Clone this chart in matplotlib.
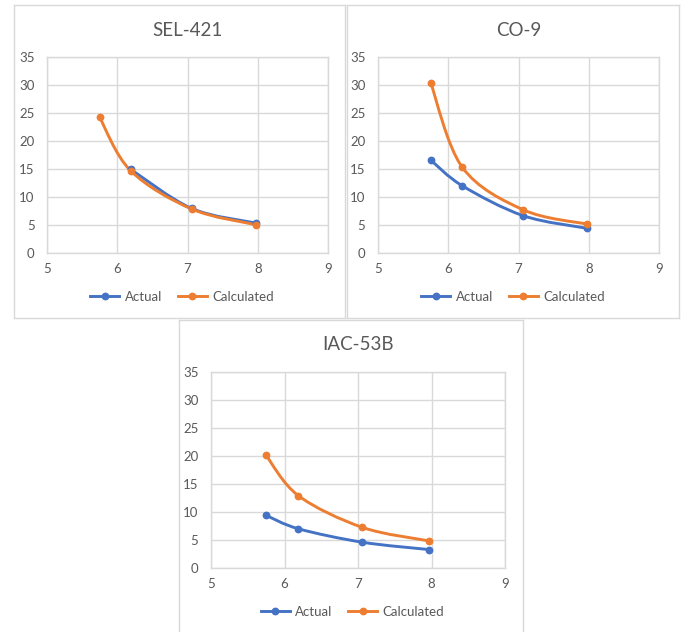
import numpy as np
import matplotlib.pyplot as plt
from matplotlib.path import Path
from matplotlib.patches import PathPatch
from matplotlib.lines import Line2D

plt.rcParams['font.family'] = ['Lato', 'DejaVu Sans']

# data
titles = ["SEL-421", "CO-9", "IAC-53B"]

sel_actual_x = [6.19, 7.06, 7.97]
sel_actual_y = [14.95, 7.95, 5.35]
sel_calc_x = [5.75, 6.19, 7.06, 7.97]
sel_calc_y = [24.2, 14.7, 7.85, 5.05]

co_actual_x = [5.75, 6.20, 7.07, 7.98]
co_actual_y = [16.6, 12.0, 6.65, 4.4]
co_calc_x = [5.75, 6.20, 7.07, 7.98]
co_calc_y = [30.4, 15.3, 7.7, 5.15]

iac_actual_x = [5.75, 6.19, 7.06, 7.96]
iac_actual_y = [9.4, 7.0, 4.6, 3.3]
iac_calc_x = [5.75, 6.19, 7.06, 7.96]
iac_calc_y = [20.1, 12.9, 7.25, 4.85]

BLUE = "#4472C4"
ORANGE = "#ED7D31"
GRID = "#D9D9D9"
TXT = "#595959"

W, H = 693, 632


def px(x0, y0, x1, y1):
    # pixel box (top-left origin) -> figure fraction rect
    return [x0 / W, 1 - y1 / H, (x1 - x0) / W, (y1 - y0) / H]


def smooth_path(xs, ys):
    # excel-like smoothed line: cubic bezier through the points
    pts = np.column_stack([xs, ys])
    n = len(pts)
    verts = [pts[0]]
    codes = [Path.MOVETO]
    for i in range(n - 1):
        p0 = pts[max(i - 1, 0)]
        p1 = pts[i]
        p2 = pts[i + 1]
        p3 = pts[min(i + 2, n - 1)]
        c1 = p1 + (p2 - p0) / 6
        c2 = p2 - (p3 - p1) / 6
        verts += [c1, c2, p2]
        codes += [Path.CURVE4] * 3
    return Path(verts, codes)


def draw_series(ax, xs, ys, color):
    ax.add_patch(PathPatch(smooth_path(xs, ys), facecolor="none",
                           edgecolor=color, lw=2.1, capstyle="round", zorder=3))
    ax.plot(xs, ys, "o", color=color, ms=4.6, zorder=4)


panels = [
    (titles[0], (14, 5, 345, 318), (47, 57, 328, 253),
     sel_actual_x, sel_actual_y, sel_calc_x, sel_calc_y),
    (titles[1], (347, 5, 679, 318), (378, 57, 659, 253),
     co_actual_x, co_actual_y, co_calc_x, co_calc_y),
    (titles[2], (179, 320, 523, 640), (211, 372, 505, 568),
     iac_actual_x, iac_actual_y, iac_calc_x, iac_calc_y),
]

fig = plt.figure(figsize=(W / 100, H / 100), dpi=100)

for title, box, area, ax_x, ax_y, cx, cy in panels:
    # chart frame
    bg = fig.add_axes(px(*box))
    bg.set_xticks([])
    bg.set_yticks([])
    for s in bg.spines.values():
        s.set_color(GRID)
        s.set_linewidth(1)

    ax = fig.add_axes(px(*area))
    ax.set_xlim(5, 9)
    ax.set_ylim(0, 35)
    ax.set_xticks(range(5, 10))
    ax.set_yticks(range(0, 36, 5))
    ax.grid(True, color=GRID, lw=1)
    ax.set_axisbelow(True)
    for s in ax.spines.values():
        s.set_color(GRID)
        s.set_linewidth(1)
    ax.tick_params(length=0, labelsize=9.5, colors=TXT)
    ax.tick_params(axis="y", pad=9)
    ax.tick_params(axis="x", pad=7)

    draw_series(ax, ax_x, ax_y, BLUE)
    draw_series(ax, cx, cy, ORANGE)

    mid = (area[0] + area[2]) / 2
    fig.text(mid / W, 1 - (area[1] - 27) / H, title, ha="center", va="center",
             fontsize=13.5, color=TXT)

    handles = [Line2D([], [], color=BLUE, lw=2.1, marker="o", ms=4.6),
               Line2D([], [], color=ORANGE, lw=2.1, marker="o", ms=4.6)]
    fig.legend(handles, ["Actual", "Calculated"], loc="center",
               bbox_to_anchor=(mid / W - 0.008, 1 - (area[3] + 44) / H), ncol=2,
               frameon=False, fontsize=9.5, labelcolor=TXT, handlelength=2.2,
               handletextpad=0.4, columnspacing=1.2)

fig.savefig("out.png", dpi=100)
